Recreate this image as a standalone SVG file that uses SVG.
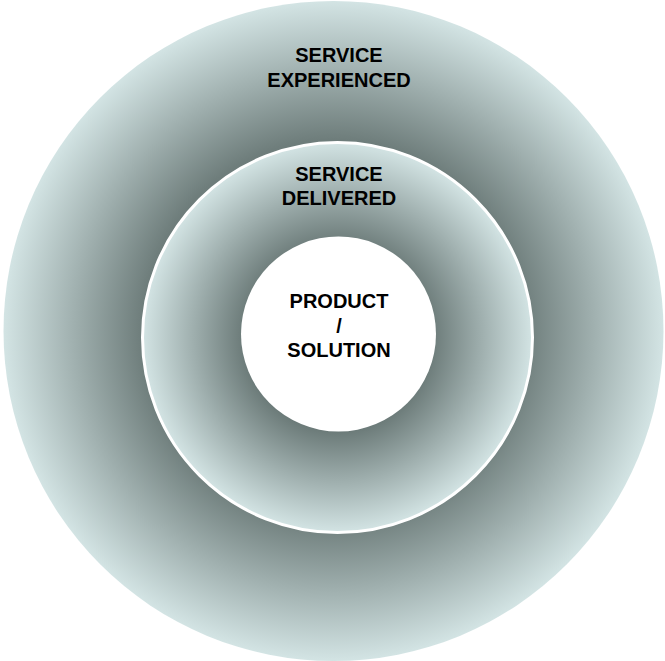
<svg xmlns="http://www.w3.org/2000/svg" width="665" height="661" viewBox="0 0 665 661">
  <defs>
    <radialGradient id="gOuter" cx="0.5" cy="0.5" r="0.5">
      <stop offset="0.58" stop-color="#6e7d7b"/>
      <stop offset="1" stop-color="#d3e4e4"/>
    </radialGradient>
    <radialGradient id="gMid" cx="0.5" cy="0.5" r="0.5">
      <stop offset="0.48" stop-color="#6b7a78"/>
      <stop offset="1" stop-color="#d3e4e4"/>
    </radialGradient>
    <style>
      .lbl { font-family: "Liberation Sans", Arial, sans-serif; font-size: 20px; font-weight: bold; fill: #000; text-anchor: middle; }
    </style>
  </defs>
  <rect width="665" height="661" fill="#ffffff"/>
  <g id="service-experienced">
    <circle cx="333.5" cy="331" r="330" fill="url(#gOuter)"/>
    <text class="lbl" x="339" y="62">SERVICE</text>
    <text class="lbl" x="339" y="87">EXPERIENCED</text>
  </g>
  <g id="service-delivered">
    <circle cx="337.5" cy="337.5" r="195" fill="url(#gMid)" stroke="#ffffff" stroke-width="3"/>
    <text class="lbl" x="339" y="181">SERVICE</text>
    <text class="lbl" x="339" y="205">DELIVERED</text>
  </g>
  <g id="product-solution">
    <circle cx="338.5" cy="334" r="97.5" fill="#ffffff"/>
    <text class="lbl" x="339" y="308">PRODUCT</text>
    <text class="lbl" x="339" y="333">/</text>
    <text class="lbl" x="339" y="357">SOLUTION</text>
  </g>
  <g id="connectors"/>
</svg>
